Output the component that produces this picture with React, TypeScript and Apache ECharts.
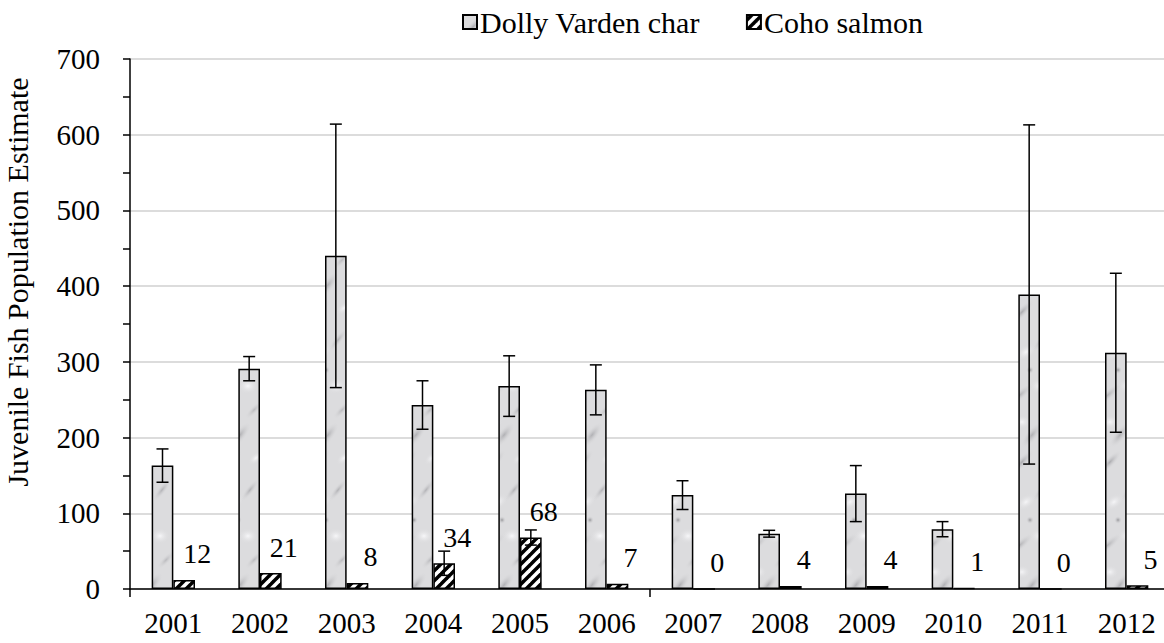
import React, { useEffect, useRef } from "react";
import * as echarts from "echarts";

const years = ["2001", "2002", "2003", "2004", "2005", "2006", "2007", "2008", "2009", "2010", "2011", "2012"];
const dollyValues = [163, 291, 440, 243, 268, 263, 124, 73, 126, 79, 389, 312];
const dollyErrors = [22, 16, 174, 32, 40, 33, 19, 4.5, 37, 10, 224, 105];
const cohoValues = [12, 21, 8, 34, 68, 7, 0, 4, 4, 1, 0, 5];
const cohoErrors = [0, 0, 0, 16, 10, 0, 0, 0, 0, 0, 0, 0];
const yTicks = [0, 100, 200, 300, 400, 500, 600, 700];
const tickGroups = ["", ""];

const FONT = "Liberation Serif";

function makeMarble(): HTMLCanvasElement {
  const c = document.createElement("canvas");
  c.width = 44;
  c.height = 150;
  const ctx = c.getContext("2d")!;
  ctx.fillStyle = "#dcdcde";
  ctx.fillRect(0, 0, c.width, c.height);
  const blobs: [number, number, number, number, number, string, number][] = [
    [10, 12, 16, 5, -0.8, "#a0a0a4", 0.8],
    [30, 40, 14, 4, -0.9, "#a8a8ac", 0.8],
    [18, 70, 4, 4, 0, "#909094", 0.9],
    [8, 95, 18, 5, -0.7, "#a4a4a8", 0.7],
    [34, 110, 12, 4, -0.8, "#acacb0", 0.7],
    [20, 135, 16, 6, -0.9, "#9e9ea2", 0.7],
    [36, 8, 9, 5, -0.7, "#f6f6f8", 1],
    [14, 52, 11, 7, -0.6, "#f5f5f7", 1],
    [28, 86, 10, 8, 0, "#f7f7f9", 1],
    [10, 122, 9, 7, 0, "#f4f4f6", 1],
  ];
  for (const [x, y, rx, ry, rot, col, a] of blobs) {
    for (const dx of [-c.width, 0, c.width]) {
      for (const dy of [-c.height, 0, c.height]) {
        ctx.save();
        ctx.translate(x + dx, y + dy);
        ctx.rotate(rot);
        ctx.scale(rx, ry);
        const g = ctx.createRadialGradient(0, 0, 0, 0, 0, 1);
        g.addColorStop(0, col);
        g.addColorStop(1, "rgba(220,220,222,0)");
        ctx.globalAlpha = a;
        ctx.fillStyle = g;
        ctx.beginPath();
        ctx.arc(0, 0, 1, 0, Math.PI * 2);
        ctx.fill();
        ctx.restore();
      }
    }
  }
  return c;
}

function makeStripes(): HTMLCanvasElement {
  const s = 10;
  const c = document.createElement("canvas");
  c.width = s;
  c.height = s;
  const ctx = c.getContext("2d")!;
  ctx.fillStyle = "#000000";
  ctx.fillRect(0, 0, s, s);
  ctx.strokeStyle = "#ffffff";
  ctx.lineWidth = 3.6;
  for (const off of [-s, 0, s]) {
    ctx.beginPath();
    ctx.moveTo(off - 1, s + 1);
    ctx.lineTo(off + s + 1, -1);
    ctx.stroke();
  }
  return c;
}

export default function App() {
  const ref = useRef<HTMLDivElement>(null);
  useEffect(() => {
    if (!ref.current) return;
    const chart = echarts.init(ref.current, undefined, { renderer: "svg" });
    const marble = makeMarble();
    const stripes = makeStripes();

    const errData = (vals: number[], errs: number[]) =>
      vals.map((v, i) => [i, v - errs[i], v + errs[i], errs[i]]);

    const errSeries = (name: string, vals: number[], errs: number[], frac: number) => ({
      type: "custom",
      name: name,
      data: errData(vals, errs),
      encode: { x: 0, y: [1, 2] },
      z: 5,
      silent: true,
      renderItem: (params: any, api: any) => {
        if (api.value(3) <= 0) return null;
        const i = api.value(0);
        const lo = api.coord([i, api.value(1)]);
        const hi = api.coord([i, api.value(2)]);
        const catW = api.size([1, 0])[0];
        const x = lo[0] + frac * catW;
        const cap = 6;
        const st = { stroke: "#000", lineWidth: 1.5 };
        return {
          type: "group",
          children: [
            { type: "line", shape: { x1: x, y1: lo[1], x2: x, y2: hi[1] }, style: st },
            { type: "line", shape: { x1: x - cap, y1: hi[1], x2: x + cap, y2: hi[1] }, style: st },
            { type: "line", shape: { x1: x - cap, y1: lo[1], x2: x + cap, y2: lo[1] }, style: st },
          ],
        };
      },
    });

    chart.setOption({
      animation: false,
      backgroundColor: "#ffffff",
      textStyle: { fontFamily: FONT, color: "#000" },
      legend: {
        data: ["Dolly Varden char", "Coho salmon"],
        left: 457,
        top: 2,
        icon: "rect",
        itemWidth: 14,
        itemHeight: 14,
        itemGap: 46,
        textStyle: { fontFamily: FONT, fontSize: 30, color: "#000", padding: [0, 0, 0, -2] },
      },
      grid: {
        left: 130,
        top: 59,
        width: 1040,
        height: 530,
        containLabel: false,
        outerBoundsMode: "none",
      },
      xAxis: [
        {
          type: "category",
          data: years,
          axisLine: { show: true, lineStyle: { color: "#000", width: 1.5 } },
          axisTick: { show: false },
          axisLabel: { interval: 0, fontFamily: FONT, fontSize: 29, color: "#000", margin: 19 },
        },
        {
          type: "category",
          data: tickGroups,
          position: "bottom",
          axisLine: { show: false },
          axisTick: { show: true, length: 8, lineStyle: { color: "#000", width: 1.5 } },
          axisLabel: { show: false },
          splitLine: { show: false },
        },
      ],
      yAxis: {
        type: "value",
        min: 0,
        max: yTicks[yTicks.length - 1],
        interval: 100,
        name: "Juvenile Fish Population Estimate",
        nameLocation: "middle",
        nameRotate: 90,
        nameGap: 98,
        nameTextStyle: { fontFamily: FONT, fontSize: 30, color: "#000", padding: [0, 0, 0, 84] },
        axisLine: { show: true, lineStyle: { color: "#000", width: 1.5 } },
        axisTick: { show: true, length: 7, lineStyle: { color: "#000", width: 1.5 } },
        minorTick: { show: true, splitNumber: 2, length: 7, lineStyle: { color: "#000", width: 1.5 } },
        axisLabel: { fontFamily: FONT, fontSize: 29, color: "#000", margin: 30 },
        splitLine: { show: true, lineStyle: { color: "#d0d0d0", width: 1.5 } },
      },
      series: [
        {
          type: "bar",
          name: "Dolly Varden char",
          data: dollyValues,
          barGap: "0%",
          barCategoryGap: "50%",
          itemStyle: {
            color: { image: marble, repeat: "repeat" },
            borderColor: "#000",
            borderWidth: 1.5,
          },
        },
        {
          type: "bar",
          name: "Coho salmon",
          data: cohoValues,
          barGap: "0%",
          barCategoryGap: "50%",
          itemStyle: {
            color: { image: stripes, repeat: "repeat" },
            borderColor: "#000",
            borderWidth: 1.5,
          },
          label: {
            show: true,
            position: "top",
            distance: 5,
            offset: [13, -7],
            formatter: "{c}",
            fontFamily: FONT,
            fontSize: 28,
            color: "#000",
          },
        },
        errSeries("dollyErr", dollyValues, dollyErrors, -0.125),
        errSeries("cohoErr", cohoValues, cohoErrors, 0.125),
      ],
    } as any);
    return () => chart.dispose();
  }, []);
  return (
    <div
      ref={ref}
      style={{ position: "absolute", left: 0, top: 0, width: 1164, height: 643, overflow: "hidden" }}
    />
  );
}
